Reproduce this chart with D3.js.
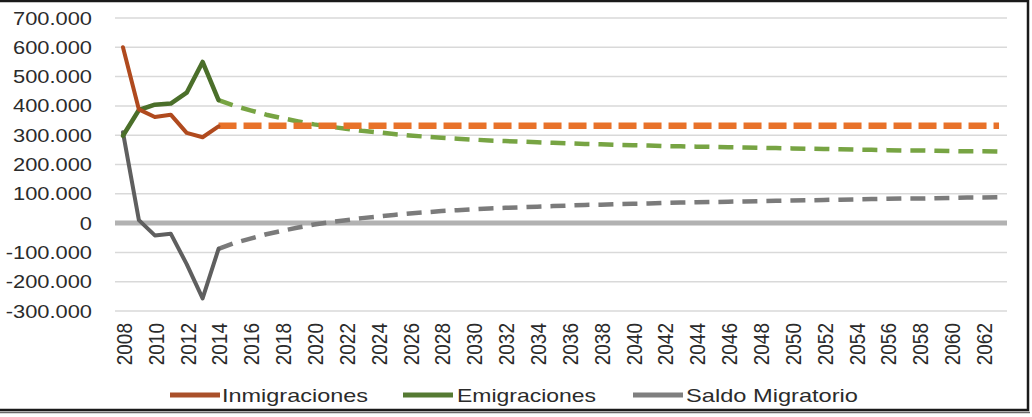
<!DOCTYPE html>
<html>
<head>
<meta charset="utf-8">
<script src="https://cdn.jsdelivr.net/npm/d3@7"></script>
<style>
  html, body { margin: 0; padding: 0; background: #ffffff; }
  svg { display: block; }
  text { font-family: "Liberation Sans", Arial, sans-serif; fill: #2b2b2b; }
</style>
</head>
<body>
<svg id="chart" width="1032" height="417"></svg>
<script>
// ---- data (thousands of people) ----
const years = d3.range(2008, 2064);
const histYears = [2008, 2009, 2010, 2011, 2012, 2013, 2014];
const inmigHist = [600, 388, 362, 370, 308, 293, 330];
const emigHist  = [298, 386, 404, 408, 445, 550, 420];
const saldoHist = [310, 10, -42, -36, -140, -257, -88];

const projYears = d3.range(2014, 2064);
const inmigProj = [332,332,332,332,332,332,332,332,332,332,332,332,332,332,332,332,332,332,332,332,332,332,332,332,332,
                   332,332,332,332,332,332,332,332,332,332,332,332,332,332,332,332,332,332,332,332,332,332,332,332,332];
const emigProj  = [420,400,385,370,358,347,337,329,322,315,310,304,299,295,291,288,285,282,280,278,276,274,272,270,269,
                   267,266,265,263,262,261,260,259,258,257,256,255,254,253,252,251,250,249,248,248,247,246,245,245,244];
const saldoProj = [-88,-68,-53,-38,-26,-15,-5,3,10,17,22,28,33,37,41,44,47,50,52,54,56,58,60,62,63,
                   65,66,67,69,70,71,72,73,74,75,76,77,78,79,80,81,82,83,84,84,85,86,87,87,88];

const yTicks = [-300, -200, -100, 0, 100, 200, 300, 400, 500, 600, 700];
const yTickLabels = ["-300.000","-200.000","-100.000","0","100.000","200.000","300.000","400.000","500.000","600.000","700.000"];
const xTickYears = d3.range(2008, 2063, 2);
const seriesNames = ["Inmigraciones", "Emigraciones", "Saldo Migratorio"];

// ---- layout ----
const svg = d3.select("#chart");
const plotL = 115, plotR = 1007, plotT = 18, plotB = 311;
const stretch = 1.15;

const x = d3.scaleBand().domain(years).range([plotL, plotR]);
const xc = yr => x(yr) + x.bandwidth() / 2;
const y = d3.scaleLinear().domain([-300, 700]).range([plotB, plotT]);

// frame
svg.append("rect").attr("x", 0).attr("y", 0).attr("width", 1032).attr("height", 417).attr("fill", "#fff");
svg.append("rect").attr("x", -2).attr("y", 1).attr("width", 1030).attr("height", 409)
  .attr("fill", "none").attr("stroke", "#1a1a1a").attr("stroke-width", 2.5);
svg.append("line").attr("x1", 0).attr("x2", 1030).attr("y1", 412.5).attr("y2", 412.5)
  .attr("stroke", "#6a6a6a").attr("stroke-width", 1.5);

// grid
const grid = svg.append("g");
grid.selectAll("line").data(yTicks.filter(d => d !== 0)).join("line")
  .attr("x1", plotL).attr("x2", plotR)
  .attr("y1", d => y(d)).attr("y2", d => y(d))
  .attr("stroke", "#d9d9d9").attr("stroke-width", 1.5);
svg.append("line").attr("x1", plotL).attr("x2", plotR)
  .attr("y1", y(0)).attr("y2", y(0))
  .attr("stroke", "#b2b2b2").attr("stroke-width", 5);

// y axis labels via d3 axis
const yAxis = d3.axisLeft(y).tickValues(yTicks).tickSize(0).tickPadding(0)
  .tickFormat(d => yTickLabels[yTicks.indexOf(d)]);
const yg = svg.append("g").attr("transform", "translate(92,0)").call(yAxis);
yg.select(".domain").remove();
yg.selectAll("text").attr("font-size", 19).attr("fill", "#2b2b2b")
  .style("font-family", '"Liberation Sans", Arial, sans-serif')
  .each(function() {
    const w = this.getComputedTextLength();
    d3.select(this).attr("textLength", w * stretch).attr("lengthAdjust", "spacingAndGlyphs");
  });

// x axis labels
const xg = svg.append("g");
xg.selectAll("text").data(xTickYears).join("text")
  .attr("transform", d => `translate(${xc(d) + 1},323) rotate(-90) scale(1,${stretch})`)
  .attr("text-anchor", "end")
  .attr("dy", "0.36em")
  .attr("font-size", 19)
  .text(d => d);

// lines
const line = d3.line().x(d => xc(d[0])).y(d => y(d[1]));
const zip = (xs, vs) => xs.map((k, i) => [k, vs[i]]);

function draw(data, color, width, dash) {
  svg.append("path").datum(data)
    .attr("d", line)
    .attr("fill", "none")
    .attr("stroke", color)
    .attr("stroke-width", width)
    .attr("stroke-linejoin", "round")
    .attr("stroke-linecap", dash ? "butt" : "round")
    .attr("stroke-dasharray", dash || null);
}

draw(zip(projYears, saldoProj), "#7b7b7b", 4.5, "15,9");
draw(zip(projYears, emigProj), "#77a443", 4.5, "15,9");
draw(zip(projYears, inmigProj), "#e8722a", 6.5, "18,7");
draw(zip(histYears, saldoHist), "#5f5f5f", 4, null);
draw(zip(histYears, emigHist), "#4b6f2a", 4.5, null);
draw(zip(histYears, inmigHist), "#b04a1e", 4, null);

// legend
const legendColors = ["#a9502a", "#557a33", "#7f7f7f"];
const legendLineX = [170, 403, 633];
const legendTextX = [222, 457, 686];
const legendWidths = [146, 139, 172];
const lg = svg.append("g");
seriesNames.forEach((name, i) => {
  lg.append("line")
    .attr("x1", legendLineX[i]).attr("x2", legendLineX[i] + 50)
    .attr("y1", 395).attr("y2", 395)
    .attr("stroke", legendColors[i]).attr("stroke-width", 5);
  lg.append("text")
    .attr("x", legendTextX[i]).attr("y", 401.5)
    .attr("font-size", 19)
    .attr("textLength", legendWidths[i])
    .attr("lengthAdjust", "spacingAndGlyphs")
    .text(name);
});
</script>
</body>
</html>
